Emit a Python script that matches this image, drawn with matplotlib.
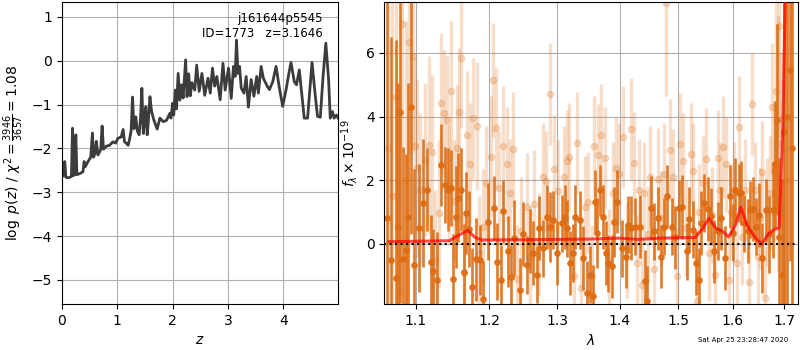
import matplotlib
matplotlib.use("Agg")
import matplotlib.pyplot as plt
from matplotlib.ticker import NullLocator, FormatStrFormatter

plt.rcParams.update({"font.family": "DejaVu Sans", "font.size": 10})

ORANGE = "#de6c12"
PZ_COL = "#3c3c3c"

# ---------------------------------------------------------------- p(z) curve
zgrid = [0.00, 0.02, 0.05, 0.07, 0.12, 0.17, 0.19, 0.21, 0.23, 0.25, 0.27,
         0.33, 0.38, 0.40, 0.42, 0.47, 0.52, 0.55, 0.57, 0.60, 0.62, 0.65,
         0.70, 0.725, 0.75, 0.80, 0.86, 0.92, 0.97, 1.01, 1.07, 1.105, 1.13,
         1.16, 1.196, 1.22, 1.25, 1.275, 1.30, 1.335, 1.36, 1.395, 1.42,
         1.444, 1.47, 1.49, 1.516, 1.54, 1.56, 1.59, 1.62, 1.66, 1.72, 1.77,
         1.83, 1.89, 1.95, 1.97, 2.00, 2.02, 2.05, 2.07, 2.10, 2.13, 2.16,
         2.19, 2.235, 2.26, 2.29, 2.32, 2.35, 2.40, 2.435, 2.48, 2.53, 2.58,
         2.64, 2.68, 2.72, 2.76, 2.80, 2.86, 2.91, 2.95, 3.01, 3.06, 3.10,
         3.13, 3.155, 3.18, 3.21, 3.24, 3.29, 3.33, 3.37, 3.42, 3.47, 3.52,
         3.55, 3.60, 3.64, 3.71, 3.75, 3.81, 3.87, 3.93, 3.99, 4.05, 4.10,
         4.14, 4.20, 4.24, 4.29, 4.38, 4.44, 4.52, 4.58, 4.62, 4.67, 4.72,
         4.77, 4.82, 4.85, 4.89, 4.92, 4.96, 4.99]
log_pz = [-2.64, -2.63, -2.30, -2.66, -2.67, -2.64, -1.54, -2.62, -2.60,
          -1.69, -2.60, -2.57, -2.53, -2.30, -2.42, -2.30, -2.20, -1.65,
          -2.20, -2.10, -1.84, -2.15, -2.03, -1.49, -2.02, -1.95, -1.93,
          -1.85, -1.88, -1.77, -1.74, -1.57, -1.85, -1.88, -1.93, -1.80,
          -1.60, -0.83, -1.55, -1.28, -1.60, -1.69, -1.30, -0.63, -1.66,
          -1.40, -1.05, -1.69, -1.40, -0.82, -1.16, -1.35, -1.56, -1.31,
          -1.39, -1.36, -1.20, -1.31, -0.97, -1.24, -0.67, -1.10, -0.29,
          -0.90, -0.55, -0.85, 0.02, -0.82, -0.30, -0.80, -0.50, -0.67,
          -0.10, -0.70, -0.29, -0.79, -0.40, -0.74, -0.17, -0.58, -0.36,
          -0.89, -0.06, -0.67, -0.17, -0.86, -0.13, -0.36, 0.47, -0.29,
          -0.13, -0.62, -0.74, -0.36, -1.06, -0.43, -0.81, -0.36, -0.74,
          -0.13, -0.40, -0.58, -0.66, -0.48, -0.13, -0.62, -1.04, -0.67,
          -0.30, -0.04, -0.48, -0.55, -0.21, -1.31, -1.31, -0.04, -0.81,
          -1.27, -1.29, -0.36, 0.40, -0.43, -1.31, -1.16, -1.31, -1.24, -1.30]

# ---------------------------------------------------------------- spectrum (bright)
wave_a = [1.063, 1.068, 1.0743, 1.077, 1.080, 1.084, 1.087, 1.0904, 1.094,
          1.098, 1.104, 1.109, 1.115, 1.120, 1.123, 1.128, 1.134, 1.139,
          1.143, 1.147, 1.150, 1.153, 1.157, 1.161, 1.165, 1.168, 1.172,
          1.176, 1.181, 1.187, 1.191, 1.198, 1.207, 1.211, 1.216, 1.220,
          1.227, 1.231, 1.236, 1.244, 1.249, 1.254, 1.259, 1.264, 1.269,
          1.273, 1.279, 1.285, 1.289, 1.294, 1.300, 1.307, 1.312, 1.316,
          1.320, 1.324, 1.328, 1.335, 1.340, 1.346, 1.352, 1.356, 1.360,
          1.363, 1.368, 1.373, 1.378, 1.381, 1.387, 1.391, 1.396, 1.403,
          1.410, 1.414, 1.419, 1.425, 1.433, 1.442, 1.446, 1.452, 1.458,
          1.465, 1.470, 1.475, 1.481, 1.489, 1.495, 1.501, 1.506, 1.515,
          1.520, 1.526, 1.532, 1.537, 1.541, 1.547, 1.553, 1.560, 1.565,
          1.572, 1.577, 1.586, 1.594, 1.600, 1.605, 1.611, 1.616, 1.622,
          1.628, 1.633, 1.639, 1.645, 1.651, 1.657, 1.663, 1.670, 1.677,
          1.681, 1.686, 1.690, 1.695, 1.700, 1.705, 1.711, 1.716]
flux_a = [0.8, -0.5, -1.08, 0.54, 4.14, -0.47, -0.19, 0.84, 4.31, -0.66,
          0.5, 1.28, 1.70, -0.58, -0.84, -1.13, 2.48, 1.85, 1.70, 1.75,
          -1.10, 0.85, 1.45, 1.70, -0.87, 0.97, 0.47, -1.34, -0.48, -0.50,
          -1.73, 0.70, 1.12, -0.56, -1.13, 1.02, -0.24, -1.03, 0.18, -1.45,
          0.3, -0.66, 0.1, -0.29, -0.97, 0.49, -0.14, 0.84, 0.54, 0.75,
          -0.29, 0.65, 0.84, 0.49, -0.61, -0.29, 0.84, 0.75, -0.45, -1.55,
          -0.97, -1.65, 1.33, 0.34, 1.68, 0.84, -0.29, -0.61, -0.71, 0.70,
          1.33, -0.14, -0.40, 0.60, 0.50, 0.54, 0.54, -1.18, -1.81, 1.12,
          0.39, 0.80, -0.40, 0.54, 1.49, 0.54, 0.2, 1.12, 1.15, -0.24,
          0.78, 0.45, -0.6, -1.13, 0.65, 1.28, 1.10, 0.86, -0.24, 0.40,
          0.80, -0.45, 1.49, 0.35, 1.70, 1.60, 1.60, 0.65, 0.40, 1.07,
          1.10, 0.54, 0.90, -0.45, 1.05, 0.3, 1.07, 2.5, 3.9, 0.2, -0.97,
          3.5, 4.0, 5.47, 3.0]
err_a = [8.0, 7.0, 7.5, 4.5, 6.0, 3.5, 3.0, 4.2, 4.0, 3.0, 2.0, 2.0, 1.3,
         1.5, 1.3, 1.5, 1.3, 1.2, 1.3, 1.2, 1.4, 1.6, 1.4, 1.3, 1.5, 1.3,
         1.2, 1.2, 1.3, 1.1, 1.2, 1.2, 1.0, 1.2, 1.1, 1.0, 1.1, 1.0, 1.2,
         1.0, 1.0, 0.9, 1.0, 1.0, 0.9, 1.0, 0.9, 1.0, 1.1, 0.9, 1.0, 0.9,
         1.0, 0.9, 1.0, 0.9, 1.0, 0.9, 1.0, 1.0, 0.9, 1.0, 1.0, 1.1, 0.8,
         1.0, 1.0, 0.9, 1.0, 1.1, 1.0, 0.9, 1.0, 0.9, 1.0, 0.9, 1.0, 1.0,
         1.1, 1.0, 0.9, 1.0, 1.0, 0.9, 1.0, 0.9, 1.0, 0.9, 1.0, 0.9, 1.0,
         0.9, 1.0, 1.0, 1.0, 0.9, 1.0, 0.9, 1.0, 0.9, 1.0, 1.0, 1.0, 0.9,
         1.0, 0.9, 1.0, 0.9, 1.0, 0.9, 1.0, 0.9, 1.0, 1.1, 1.0, 1.2, 1.5,
         2.0, 3.0, 2.5, 3.0, 6.0, 8.0, 6.0, 8.0]

# ---------------------------------------------------------------- spectrum (faint)
wave_b = [1.064, 1.070, 1.0747, 1.079, 1.0828, 1.087, 1.0917, 1.096, 1.099,
          1.102, 1.106, 1.112, 1.117, 1.121, 1.126, 1.131, 1.134, 1.137,
          1.141, 1.144, 1.147, 1.151, 1.155, 1.158, 1.161, 1.165, 1.169,
          1.173, 1.177, 1.182, 1.186, 1.191, 1.195, 1.202, 1.205, 1.209,
          1.214, 1.219, 1.225, 1.229, 1.234, 1.240, 1.246, 1.254, 1.259,
          1.265, 1.272, 1.278, 1.283, 1.289, 1.296, 1.302, 1.310, 1.315,
          1.319, 1.326, 1.331, 1.337, 1.343, 1.349, 1.354, 1.358, 1.364,
          1.370, 1.376, 1.382, 1.388, 1.394, 1.399, 1.406, 1.412, 1.418,
          1.424, 1.429, 1.432, 1.437, 1.441, 1.447, 1.451, 1.457, 1.464,
          1.470, 1.475, 1.479, 1.485, 1.491, 1.497, 1.503, 1.508, 1.514,
          1.522, 1.527, 1.533, 1.538, 1.544, 1.550, 1.556, 1.561, 1.566,
          1.572, 1.576, 1.581, 1.587, 1.592, 1.597, 1.602, 1.608, 1.612,
          1.618, 1.624, 1.630, 1.637, 1.642, 1.648, 1.652, 1.656, 1.661,
          1.666, 1.671, 1.675, 1.680, 1.684, 1.688, 1.690, 1.694, 1.699,
          1.704]
flux_b = [3.0, 1.5, 4.6, -1.5, 6.9, 2.0, 6.34, 5.9, 3.06, 2.38, 1.7, 2.64,
          3.11, 2.9, -0.5, 0.96, 4.42, 4.1, 3.9, 1.85, 4.81, 1.36, 3.0, 4.15,
          5.83, -0.9, 3.42, 2.51, 3.95, 3.70, -0.3, 0.54, 1.91, 2.74, 5.15,
          3.63, 1.75, 3.06, 2.51, 1.6, 2.97, -1.1, 0.4, 1.15, -0.4, 1.25,
          0.0, 2.10, 1.96, 4.70, 2.34, 1.67, 2.10, 2.60, 2.74, -1.0, 3.16,
          -1.4, 1.15, 1.3, -1.0, 3.06, 2.80, 3.42, 2.70, -0.5, 1.6, 2.38,
          2.2, 3.35, -0.2, 3.60, 2.55, -0.6, 1.68, -1.3, 1.60, 0.3, 2.10,
          -0.8, 2.05, 0.8, 2.20, 7.56, 2.95, 2.10, -1.0, 3.13, 2.6, 0.5,
          2.83, 2.3, -1.8, 1.0, 1.9, 2.66, -0.3, 0.9, -0.97, 2.7, 1.7, 3.03,
          2.5, -1.15, 1.0, 1.7, -0.6, 3.66, 0.2, 1.7, -1.2, 4.40, 1.7, -0.4,
          0.8, 2.27, -1.7, 1.0, 1.6, 4.30, 2.3, 4.81, 3.16, 6.83, 1.0, 3.0,
          2.0]
err_b = [8.0, 7.0, 5.0, 4.0, 4.0, 5.0, 3.5, 3.0, 2.8, 2.8, 2.4, 2.4, 2.8,
         2.4, 2.2, 2.3, 2.2, 2.0, 2.0, 1.9, 2.2, 1.9, 2.0, 2.0, 2.2, 1.9,
         2.0, 1.9, 1.9, 2.0, 1.8, 1.8, 1.8, 1.9, 1.8, 1.9, 1.8, 1.9, 1.8,
         1.7, 1.8, 1.7, 1.7, 1.7, 1.6, 1.7, 1.6, 1.7, 1.6, 1.6, 1.7, 1.6,
         1.6, 1.6, 1.7, 1.6, 1.6, 1.6, 1.6, 1.6, 1.6, 1.6, 1.6, 1.6, 1.6,
         1.6, 1.6, 1.6, 1.6, 1.6, 1.5, 1.6, 1.6, 1.5, 1.6, 1.5, 1.6, 1.5,
         1.6, 1.5, 1.6, 1.5, 1.6, 2.9, 1.6, 1.5, 1.5, 1.6, 1.5, 1.5, 1.6,
         1.5, 1.5, 1.5, 1.5, 1.6, 1.5, 1.5, 1.5, 1.5, 1.5, 1.6, 1.5, 1.5,
         1.5, 1.5, 1.5, 1.6, 1.5, 1.6, 1.5, 1.6, 1.5, 1.5, 1.6, 1.6, 1.6,
         1.7, 1.8, 2.0, 2.2, 3.0, 4.0, 3.5, 5.0, 7.0, 8.0]

# ---------------------------------------------------------------- model
wave_m = [1.066, 1.100, 1.145, 1.158, 1.170, 1.180, 1.190, 1.250, 1.300,
          1.350, 1.400, 1.430, 1.470, 1.530, 1.545, 1.555, 1.568, 1.580,
          1.592, 1.605, 1.615, 1.628, 1.645, 1.656, 1.668, 1.680, 1.690,
          1.697, 1.703]
flux_m = [0.07, 0.08, 0.10, 0.28, 0.42, 0.20, 0.12, 0.13, 0.14, 0.15, 0.18,
          0.14, 0.18, 0.20, 0.50, 0.80, 0.50, 0.40, 0.22, 0.60, 1.15, 0.55,
          0.15, 0.00, 0.30, 0.45, 0.50, 3.50, 8.50]

fig = plt.figure(figsize=(8, 3.5), dpi=100)

# ---------------------------------------------------------------- left: p(z)
ax = fig.add_axes([0.0775, 0.1314, 0.345, 0.863])
ax.plot(zgrid, log_pz, color=PZ_COL, lw=2)
ax.set_xlim(0, 4.99)
ax.set_ylim(-5.55, 1.34)
ax.set_xticks([0, 1, 2, 3, 4])
ax.set_yticks([-5, -4, -3, -2, -1, 0, 1])
ax.grid(True)
ax.set_xlabel(r"$z$")
ax.set_ylabel(r"$\log\ p(z)$" + " / " + r"$\chi^2=\frac{3946}{3657}=1.08$")
ax.text(0.945, 0.968, "j161644p5545\nID=1773   z=3.1646", ha="right", va="top",
        fontsize=8.5, transform=ax.transAxes)

# ---------------------------------------------------------------- right: spectrum
ax2 = fig.add_axes([0.4804, 0.1314, 0.5171, 0.863])
ax2.errorbar(wave_b, flux_b, yerr=err_b, color=ORANGE, alpha=0.22, marker="o",
             ms=4.5, ls="none", elinewidth=2.4, zorder=1)
ax2.errorbar(wave_a, flux_a, yerr=err_a, color=ORANGE, alpha=0.9, marker="o",
             ms=3.8, ls="none", elinewidth=1.9, zorder=2)
ax2.plot(wave_m, flux_m, color="red", alpha=0.7, lw=2.2, zorder=4)
ax2.axhline(0, color="k", ls=":", lw=1.5, zorder=5)
ax2.set_xscale("log")
ax2.set_xlim(1.060, 1.728)
ax2.set_xticks([1.1, 1.2, 1.3, 1.4, 1.5, 1.6, 1.7])
ax2.xaxis.set_major_formatter(FormatStrFormatter("%.1f"))
ax2.xaxis.set_minor_locator(NullLocator())
ax2.set_ylim(-1.89, 7.6)
ax2.set_yticks([0, 2, 4, 6])
ax2.grid(True)
ax2.set_axisbelow(True)
ax2.set_xlabel(r"$\lambda$")
ax2.set_ylabel(r"$f_\lambda \times 10^{-19}$")

fig.text(0.985, 0.02, "Sat Apr 25 23:28:47 2020", ha="right", va="bottom",
         fontsize=5)

fig.savefig("out.png", dpi=100)
